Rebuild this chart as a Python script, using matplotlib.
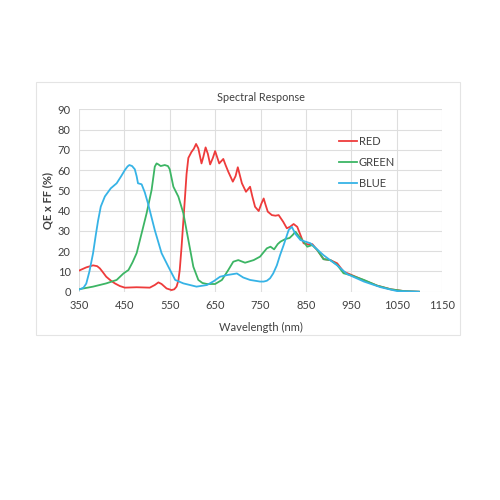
import matplotlib.pyplot as plt
from matplotlib.patches import Rectangle

plt.rcParams['font.family'] = ['Lato', 'DejaVu Sans']

red_nm = [350, 366, 381, 390, 396, 403, 410, 420, 429, 440, 451, 477, 506, 517, 525, 532,
          543, 554, 560, 565, 569, 572, 576, 580, 584, 587, 591, 598, 603, 608, 613, 620,
          624, 629, 634, 639, 645, 650, 659, 668, 673, 679, 689, 695, 700, 705, 709, 718,
          727, 732, 738, 746, 752, 757, 761, 766, 775, 783, 790, 800, 808, 815, 823, 831,
          838, 845, 855, 864, 875, 889, 904, 919, 933, 948, 978, 1007, 1037, 1066, 1099]
red_qe = [10.4, 12.0, 13.0, 12.6, 11.5, 9.5, 7.4, 5.5, 4.1, 2.8, 2.0, 2.2, 2.0, 3.3, 4.6, 3.8,
          1.6, 0.8, 1.2, 2.5, 5.5, 10.7, 22.0, 35.0, 48.0, 58.0, 66.0, 69.0, 70.5, 72.9, 70.7, 63.3,
          66.5, 71.2, 68.0, 62.8, 66.0, 69.4, 63.3, 65.5, 62.5, 59.2, 54.3, 57.0, 61.4, 57.0, 53.5, 49.3,
          51.8, 47.0, 41.9, 39.8, 43.5, 46.0, 43.0, 39.5, 37.8, 37.5, 37.8, 34.5, 31.3, 32.0, 33.4, 32.0,
          28.0, 23.9, 23.3, 23.5, 20.6, 16.1, 15.6, 14.0, 9.9, 8.5, 5.6, 3.0, 1.2, 0.3, 0.0]

green_nm = [350, 381, 410, 433, 448, 459, 468, 477, 488, 499, 510, 517, 521, 525, 530, 539,
            546, 550, 558, 569, 580, 591, 602, 613, 622, 632, 650, 665, 679, 690, 701, 716,
            735, 749, 757, 764, 772, 780, 788, 794, 805, 814, 821, 827, 836, 845, 853, 864,
            875, 889, 904, 919, 933, 948, 978, 1007, 1037, 1066, 1099]
green_qe = [1.2, 2.5, 4.1, 5.8, 9.0, 10.7, 14.5, 19.0, 28.8, 38.7, 50.2, 61.7, 63.3, 62.8, 62.0, 62.5,
            62.0, 60.4, 51.8, 46.9, 38.7, 25.5, 12.3, 5.8, 4.3, 3.8, 3.8, 5.8, 10.7, 14.8, 15.6, 14.3,
            15.6, 17.3, 19.5, 21.4, 22.2, 20.9, 23.5, 24.7, 26.0, 26.5, 28.0, 29.6, 27.0, 24.7, 22.2, 23.0,
            20.6, 16.0, 15.6, 13.2, 9.1, 8.2, 5.8, 3.0, 1.2, 0.3, 0.0]

blue_nm = [350, 360, 366, 373, 381, 387, 392, 398, 407, 420, 433, 443, 451, 457, 461, 467,
           473, 477, 480, 488, 495, 502, 517, 532, 547, 562, 580, 609, 632, 647, 661, 676,
           698, 712, 727, 749, 757, 764, 771, 778, 786, 793, 801, 812, 819, 827, 838, 860,
           889, 919, 941, 978, 1015, 1051, 1099]
blue_qe = [1.0, 2.0, 4.0, 10.0, 19.0, 28.0, 35.0, 42.0, 47.0, 51.0, 53.5, 57.0, 60.0, 61.8, 62.5, 62.0,
           60.4, 57.0, 53.5, 53.0, 49.0, 43.6, 30.4, 19.0, 12.3, 5.8, 4.1, 2.5, 3.3, 5.2, 7.4, 8.2,
           9.0, 7.0, 5.8, 5.0, 5.0, 5.4, 6.6, 9.0, 13.0, 18.0, 23.0, 30.4, 32.0, 28.5, 25.5, 23.9,
           18.0, 13.0, 8.7, 5.0, 2.2, 0.3, 0.0]

x_ticks = [350, 450, 550, 650, 750, 850, 950, 1050, 1150]
y_ticks = [0, 10, 20, 30, 40, 50, 60, 70, 80, 90]

fig = plt.figure(figsize=(5, 5), dpi=100)
fig.patch.set_facecolor('white')

# faint outer chart frame
fig.patches.append(Rectangle((0.072, 0.33), 0.848, 0.506, transform=fig.transFigure,
                             fill=False, edgecolor='#e4e4e4', linewidth=0.8))

ax = fig.add_axes([0.158, 0.4166, 0.726, 0.3648])

ax.plot(red_nm, red_qe, color='#ee3b3b', linewidth=1.3, label='RED', solid_joinstyle='round')
ax.plot(green_nm, green_qe, color='#3cb564', linewidth=1.3, label='GREEN', solid_joinstyle='round')
ax.plot(blue_nm, blue_qe, color='#36b3e6', linewidth=1.3, label='BLUE', solid_joinstyle='round')

ax.set_xlim(350, 1150)
ax.set_ylim(0, 90)
ax.set_xticks(x_ticks)
ax.set_yticks(y_ticks)
ax.grid(True, color='#dedede', linewidth=0.8)
ax.set_axisbelow(True)
for s in ax.spines.values():
    s.set_visible(False)
ax.tick_params(length=0, labelsize=8, colors='#404040', pad=6)

ax.set_title('Spectral Response', fontsize=7.8, color='#404040', pad=6)
ax.set_xlabel('Wavelength (nm)', fontsize=8, color='#404040', labelpad=8)
ax.set_ylabel('QE x FF (%)', fontsize=8, color='#404040', fontweight='bold', labelpad=3)

leg = ax.legend(loc='upper left', bbox_to_anchor=(0.69, 0.907), frameon=False,
                fontsize=8, handlelength=1.6, handletextpad=0.15, labelspacing=0.9)
for t in leg.get_texts():
    t.set_color('#404040')

fig.savefig('out.png', dpi=100)
